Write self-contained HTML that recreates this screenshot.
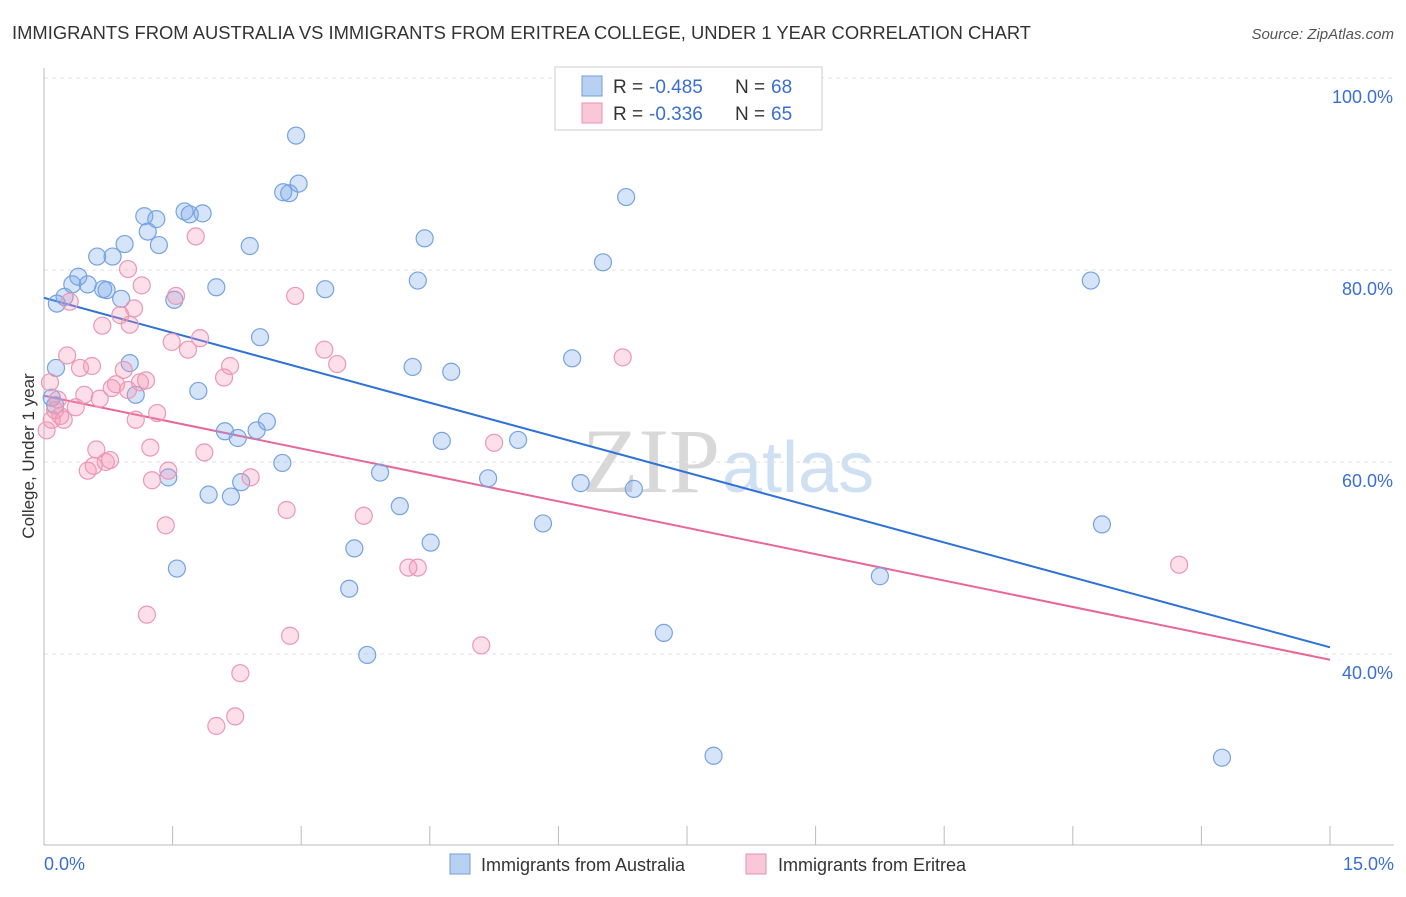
<!DOCTYPE html>
<html><head><meta charset="utf-8"><style>
body{margin:0;background:#fff;font-family:"Liberation Sans",sans-serif;}
</style></head><body>
<svg id="chart" width="1406" height="892" viewBox="0 0 1406 892" xmlns="http://www.w3.org/2000/svg" font-family="Liberation Sans, sans-serif">
<text x="12" y="39" font-size="18" fill="#333" textLength="1019" lengthAdjust="spacingAndGlyphs">IMMIGRANTS FROM AUSTRALIA VS IMMIGRANTS FROM ERITREA COLLEGE, UNDER 1 YEAR CORRELATION CHART</text>
<text x="1394" y="39" font-size="15" fill="#555" font-style="italic" text-anchor="end">Source: ZipAtlas.com</text>
<text x="720" y="492" font-size="92" fill="#d8d8d8" font-family="Liberation Serif, serif" text-anchor="end">ZIP</text>
<text x="722" y="492" font-size="72" fill="#cfe0f3" text-anchor="start">atlas</text>
<g id="grid"></g><g id="axes"></g><g id="trend"></g><g id="pts"></g>
<text transform="translate(34,456) rotate(-90)" font-size="17" fill="#333" text-anchor="middle">College, Under 1 year</text>
<text x="44" y="870" font-size="18" fill="#3a6fd0">0.0%</text>
<text x="1394" y="870" font-size="18" fill="#3a6fd0" text-anchor="end">15.0%</text>
<g>
<rect x="555" y="67" width="267" height="63" fill="#fff" stroke="#ccc"/>
<rect x="582" y="76" width="20" height="20" fill="#b8d0f2" stroke="#6f9fde"/>
<text x="613" y="93" font-size="19" fill="#333">R =</text>
<text x="649" y="93" font-size="19" fill="#3a6fd0">-0.485</text>
<text x="735" y="93" font-size="19" fill="#333">N =</text>
<text x="771" y="93" font-size="19" fill="#3a6fd0">68</text>
<rect x="582" y="103" width="20" height="20" fill="#f8c8d8" stroke="#e992b0"/>
<text x="613" y="120" font-size="19" fill="#333">R =</text>
<text x="649" y="120" font-size="19" fill="#3a6fd0">-0.336</text>
<text x="735" y="120" font-size="19" fill="#333">N =</text>
<text x="771" y="120" font-size="19" fill="#3a6fd0">65</text>
</g>
<g>
<rect x="450" y="854" width="20" height="20" fill="#b8d0f2" stroke="#6f9fde"/>
<text x="481" y="871" font-size="18" fill="#333">Immigrants from Australia</text>
<rect x="746" y="854" width="20" height="20" fill="#f8c8d8" stroke="#e992b0"/>
<text x="778" y="871" font-size="18" fill="#333">Immigrants from Eritrea</text>
</g>
</svg>
<script>
const yTicks=[40,60,80,100];
const yTickLabels=["40.0%","60.0%","80.0%","100.0%"];
const xTicks=[0,1.5,3,4.5,6,7.5,9,10.5,12,13.5,15];
const blueX=[0.15,0.24,0.33,0.40,0.51,0.62,0.69,0.73,0.80,0.90,0.94,1.00,1.07,1.17,1.21,1.31,1.34,1.45,1.52,1.55,1.64,1.70,1.80,1.85,1.92,2.01,2.11,2.18,2.26,2.30,2.40,2.48,2.52,2.60,2.78,2.79,2.86,2.94,2.97,3.28,3.56,3.62,3.77,3.92,4.15,4.30,4.36,4.44,4.51,4.64,4.75,5.18,5.53,5.82,6.16,6.26,6.52,6.79,6.88,7.23,7.81,9.75,12.21,12.34,13.74,0.14,0.09,0.13];
const blueY=[76.5,77.2,78.5,79.3,78.5,81.4,78.0,77.9,81.4,77.0,82.7,70.3,67.0,85.6,84.0,85.3,82.6,58.4,76.9,48.9,86.1,85.8,67.4,85.9,56.6,78.2,63.2,56.4,62.5,57.9,82.5,63.3,73.0,64.2,59.9,88.1,88.0,94.0,89.0,78.0,46.8,51.0,39.9,58.9,55.4,69.9,78.9,83.3,51.6,62.2,69.4,58.3,62.3,53.6,70.8,57.8,80.8,87.6,57.2,42.2,29.4,48.1,78.9,53.5,29.2,69.8,66.7,65.9];
const pinkX=[0.03,0.07,0.13,0.19,0.23,0.27,0.30,0.37,0.42,0.47,0.51,0.56,0.58,0.61,0.65,0.68,0.72,0.77,0.79,0.84,0.89,0.93,0.98,0.98,1.00,1.05,1.07,1.12,1.14,1.19,1.20,1.24,1.26,1.32,1.42,1.45,1.49,1.54,1.68,1.77,1.82,1.87,2.01,2.10,2.17,2.23,2.29,2.41,2.83,2.87,2.93,3.27,3.42,3.73,4.25,4.36,5.10,5.25,6.75,13.24,0.09,0.16];
const pinkY=[63.3,68.3,65.4,64.8,64.4,71.1,76.7,65.7,69.8,67.0,59.1,70.0,59.6,61.3,66.6,74.2,60.0,60.2,67.7,68.1,75.3,69.6,67.5,80.1,74.3,76.0,64.4,68.3,78.4,68.5,44.1,61.5,58.1,65.1,53.4,59.1,72.5,77.3,71.7,83.5,72.9,61.0,32.5,68.8,70.0,33.5,38.0,58.4,55.0,41.9,77.3,71.7,70.2,54.4,49.0,49.0,40.9,62.0,70.9,49.3,64.4,66.5];
const blueTrend=[77.1,40.7];
const pinkTrend=[66.9,39.4];
const NS="http://www.w3.org/2000/svg";
function xs(v){return 44+v/15*1286;}
function ys(v){return 78+(100-v)*9.6;}
function mk(tag,attrs,parent){const e=document.createElementNS(NS,tag);for(const k in attrs)e.setAttribute(k,attrs[k]);document.getElementById(parent).appendChild(e);return e;}
yTicks.forEach((t,i)=>{
 const l=mk('line',{x1:44,x2:1394,y1:ys(t),y2:ys(t),stroke:'#e2e2e2','stroke-dasharray':'4,4'},'grid');
 
 
 const tx=mk('text',{x:1393,y:ys(t)+25,'font-size':18,fill:'#3a6fd0','text-anchor':'end'},'grid');
 tx.textContent=yTickLabels[i];
 
 
});
const ax=mk('line',{x1:44,x2:1394,y1:845,y2:845,stroke:'#bbb'},'axes');


const ay=mk('line',{x1:44,x2:44,y1:68,y2:845,stroke:'#bbb'},'axes');


xTicks.forEach(t=>{
 const l=mk('line',{x1:xs(t),x2:xs(t),y1:826,y2:845,stroke:'#bbb'},'axes');
 
 
});
function dots(X,Y,fill,stroke,name){
 X.forEach((x,i)=>{
  const c=mk('circle',{cx:xs(x),cy:ys(Y[i]),r:8.5,fill:fill,stroke:stroke,'stroke-width':1.2},'pts');
  
  
 });
}
dots(blueX,blueY,'rgba(120,165,235,0.3)','#76a3e0','point-australia');
dots(pinkX,pinkY,'rgba(245,150,180,0.3)','#eb98b5','point-eritrea');
const bt=mk('line',{x1:xs(0),y1:ys(blueTrend[0]),x2:xs(15),y2:ys(blueTrend[1]),stroke:'#2f72d8','stroke-width':2},'trend');


const pt=mk('line',{x1:xs(0),y1:ys(pinkTrend[0]),x2:xs(15),y2:ys(pinkTrend[1]),stroke:'#e8669a','stroke-width':2},'trend');


</script>
</body></html>
